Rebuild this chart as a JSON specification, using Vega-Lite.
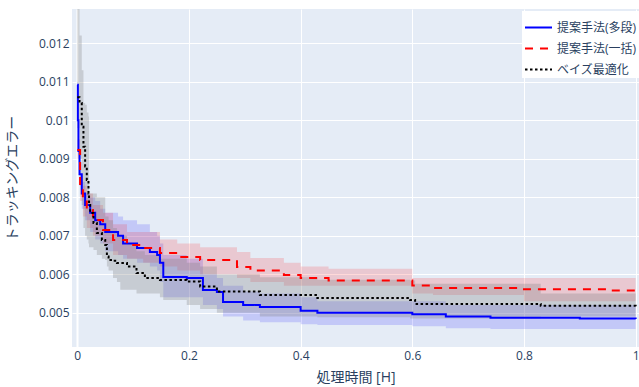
{
  "$schema": "https://vega.github.io/schema/vega-lite/v6.json",
  "width": 567,
  "height": 338,
  "autosize": {"type": "none"},
  "padding": {"left": 72, "top": 9, "right": 0, "bottom": 40},
  "background": "white",
  "datasets": {
    "series": [
      {"s": "提案手法(多段)", "x": 0.0, "m": 0.01092, "lo": 0.0108, "hi": 0.0110},
      {"s": "提案手法(多段)", "x": 0.001, "m": 0.0100, "lo": 0.0097, "hi": 0.0103},
      {"s": "提案手法(多段)", "x": 0.002, "m": 0.0092, "lo": 0.0089, "hi": 0.0095},
      {"s": "提案手法(多段)", "x": 0.004, "m": 0.0086, "lo": 0.0083, "hi": 0.0089},
      {"s": "提案手法(多段)", "x": 0.008, "m": 0.0081, "lo": 0.0077, "hi": 0.0084},
      {"s": "提案手法(多段)", "x": 0.014, "m": 0.0078, "lo": 0.0074, "hi": 0.0081},
      {"s": "提案手法(多段)", "x": 0.023, "m": 0.0076, "lo": 0.0071, "hi": 0.0080},
      {"s": "提案手法(多段)", "x": 0.032, "m": 0.0074, "lo": 0.0069, "hi": 0.0079},
      {"s": "提案手法(多段)", "x": 0.041, "m": 0.0073, "lo": 0.0068, "hi": 0.0077},
      {"s": "提案手法(多段)", "x": 0.050, "m": 0.0071, "lo": 0.0066, "hi": 0.0076},
      {"s": "提案手法(多段)", "x": 0.073, "m": 0.0070, "lo": 0.0065, "hi": 0.0075},
      {"s": "提案手法(多段)", "x": 0.082, "m": 0.0068, "lo": 0.0064, "hi": 0.0074},
      {"s": "提案手法(多段)", "x": 0.107, "m": 0.00668, "lo": 0.0063, "hi": 0.0073},
      {"s": "提案手法(多段)", "x": 0.130, "m": 0.00658, "lo": 0.0062, "hi": 0.0071},
      {"s": "提案手法(多段)", "x": 0.143, "m": 0.0065, "lo": 0.0061, "hi": 0.0070},
      {"s": "提案手法(多段)", "x": 0.148, "m": 0.0063, "lo": 0.0058, "hi": 0.0068},
      {"s": "提案手法(多段)", "x": 0.154, "m": 0.00593, "lo": 0.0054, "hi": 0.0065},
      {"s": "提案手法(多段)", "x": 0.196, "m": 0.0059, "lo": 0.0054, "hi": 0.0064},
      {"s": "提案手法(多段)", "x": 0.225, "m": 0.00559, "lo": 0.0052, "hi": 0.0060},
      {"s": "提案手法(多段)", "x": 0.250, "m": 0.00554, "lo": 0.0051, "hi": 0.0059},
      {"s": "提案手法(多段)", "x": 0.261, "m": 0.00528, "lo": 0.0049, "hi": 0.0057},
      {"s": "提案手法(多段)", "x": 0.297, "m": 0.0052, "lo": 0.0048, "hi": 0.00555},
      {"s": "提案手法(多段)", "x": 0.327, "m": 0.00515, "lo": 0.00475, "hi": 0.0055},
      {"s": "提案手法(多段)", "x": 0.40, "m": 0.00505, "lo": 0.0047, "hi": 0.0054},
      {"s": "提案手法(多段)", "x": 0.43, "m": 0.0050, "lo": 0.00468, "hi": 0.0053},
      {"s": "提案手法(多段)", "x": 0.60, "m": 0.00496, "lo": 0.00465, "hi": 0.0053},
      {"s": "提案手法(多段)", "x": 0.66, "m": 0.0049, "lo": 0.0046, "hi": 0.0052},
      {"s": "提案手法(多段)", "x": 0.74, "m": 0.00487, "lo": 0.00458, "hi": 0.0052},
      {"s": "提案手法(多段)", "x": 0.90, "m": 0.00485, "lo": 0.00458, "hi": 0.0052},
      {"s": "提案手法(多段)", "x": 1.0, "m": 0.00484, "lo": 0.00458, "hi": 0.0052},

      {"s": "提案手法(一括)", "x": 0.0, "m": 0.00923, "lo": 0.0090, "hi": 0.0095},
      {"s": "提案手法(一括)", "x": 0.005, "m": 0.00828, "lo": 0.0079, "hi": 0.0086},
      {"s": "提案手法(一括)", "x": 0.010, "m": 0.00793, "lo": 0.0075, "hi": 0.0083},
      {"s": "提案手法(一括)", "x": 0.017, "m": 0.00767, "lo": 0.0072, "hi": 0.0081},
      {"s": "提案手法(一括)", "x": 0.028, "m": 0.00741, "lo": 0.0070, "hi": 0.0078},
      {"s": "提案手法(一括)", "x": 0.046, "m": 0.00715, "lo": 0.0068, "hi": 0.0076},
      {"s": "提案手法(一括)", "x": 0.064, "m": 0.00689, "lo": 0.0065, "hi": 0.0073},
      {"s": "提案手法(一括)", "x": 0.089, "m": 0.00676, "lo": 0.0064, "hi": 0.0071},
      {"s": "提案手法(一括)", "x": 0.118, "m": 0.00668, "lo": 0.0063, "hi": 0.0071},
      {"s": "提案手法(一括)", "x": 0.148, "m": 0.00655, "lo": 0.0062, "hi": 0.0069},
      {"s": "提案手法(一括)", "x": 0.179, "m": 0.00645, "lo": 0.0061, "hi": 0.0068},
      {"s": "提案手法(一括)", "x": 0.22, "m": 0.00637, "lo": 0.0060, "hi": 0.0067},
      {"s": "提案手法(一括)", "x": 0.286, "m": 0.00619, "lo": 0.0059, "hi": 0.00658},
      {"s": "提案手法(一括)", "x": 0.31, "m": 0.0061, "lo": 0.0058, "hi": 0.00642},
      {"s": "提案手法(一括)", "x": 0.37, "m": 0.00598, "lo": 0.0057, "hi": 0.0063},
      {"s": "提案手法(一括)", "x": 0.40, "m": 0.0059, "lo": 0.0057, "hi": 0.0062},
      {"s": "提案手法(一括)", "x": 0.45, "m": 0.00584, "lo": 0.0057, "hi": 0.00614},
      {"s": "提案手法(一括)", "x": 0.60, "m": 0.00571, "lo": 0.0055, "hi": 0.0059},
      {"s": "提案手法(一括)", "x": 0.637, "m": 0.00564, "lo": 0.00546, "hi": 0.0059},
      {"s": "提案手法(一括)", "x": 0.80, "m": 0.00561, "lo": 0.0053, "hi": 0.0059},
      {"s": "提案手法(一括)", "x": 0.95, "m": 0.00558, "lo": 0.0053, "hi": 0.0059},
      {"s": "提案手法(一括)", "x": 1.0, "m": 0.00558, "lo": 0.0053, "hi": 0.0059},

      {"s": "ベイズ最適化", "x": 0.0, "m": 0.0106, "lo": 0.0098, "hi": 0.0129},
      {"s": "ベイズ最適化", "x": 0.004, "m": 0.01045, "lo": 0.0090, "hi": 0.0122},
      {"s": "ベイズ最適化", "x": 0.008, "m": 0.00983, "lo": 0.0078, "hi": 0.0113},
      {"s": "ベイズ最適化", "x": 0.011, "m": 0.00931, "lo": 0.0072, "hi": 0.01045},
      {"s": "ベイズ最適化", "x": 0.014, "m": 0.0088, "lo": 0.0070, "hi": 0.0104},
      {"s": "ベイズ最適化", "x": 0.017, "m": 0.00845, "lo": 0.0069, "hi": 0.0102},
      {"s": "ベイズ最適化", "x": 0.020, "m": 0.0081, "lo": 0.0068, "hi": 0.0101},
      {"s": "ベイズ最適化", "x": 0.021, "m": 0.0078, "lo": 0.0067, "hi": 0.0081},
      {"s": "ベイズ最適化", "x": 0.023, "m": 0.00759, "lo": 0.0067, "hi": 0.0081},
      {"s": "ベイズ最適化", "x": 0.029, "m": 0.00733, "lo": 0.00663, "hi": 0.0081},
      {"s": "ベイズ最適化", "x": 0.035, "m": 0.00707, "lo": 0.0065, "hi": 0.0080},
      {"s": "ベイズ最適化", "x": 0.044, "m": 0.00689, "lo": 0.0064, "hi": 0.0080},
      {"s": "ベイズ最適化", "x": 0.050, "m": 0.00676, "lo": 0.00637, "hi": 0.0075},
      {"s": "ベイズ最適化", "x": 0.053, "m": 0.00646, "lo": 0.0062, "hi": 0.0075},
      {"s": "ベイズ最適化", "x": 0.056, "m": 0.00637, "lo": 0.0061, "hi": 0.0074},
      {"s": "ベイズ最適化", "x": 0.064, "m": 0.00635, "lo": 0.0059, "hi": 0.0072},
      {"s": "ベイズ最適化", "x": 0.071, "m": 0.00629, "lo": 0.0058, "hi": 0.0070},
      {"s": "ベイズ最適化", "x": 0.077, "m": 0.00629, "lo": 0.0056, "hi": 0.0070},
      {"s": "ベイズ最適化", "x": 0.089, "m": 0.0062, "lo": 0.0056, "hi": 0.0068},
      {"s": "ベイズ最適化", "x": 0.106, "m": 0.00603, "lo": 0.0055, "hi": 0.0066},
      {"s": "ベイズ最適化", "x": 0.121, "m": 0.0059, "lo": 0.0055, "hi": 0.0065},
      {"s": "ベイズ最適化", "x": 0.148, "m": 0.00585, "lo": 0.0054, "hi": 0.0064},
      {"s": "ベイズ最適化", "x": 0.154, "m": 0.00585, "lo": 0.00533, "hi": 0.0064},
      {"s": "ベイズ最適化", "x": 0.196, "m": 0.00581, "lo": 0.0052, "hi": 0.0063},
      {"s": "ベイズ最適化", "x": 0.22, "m": 0.00568, "lo": 0.0051, "hi": 0.0062},
      {"s": "ベイズ最適化", "x": 0.25, "m": 0.00555, "lo": 0.0050, "hi": 0.0060},
      {"s": "ベイズ最適化", "x": 0.327, "m": 0.00546, "lo": 0.0049, "hi": 0.00592},
      {"s": "ベイズ最適化", "x": 0.43, "m": 0.00538, "lo": 0.00488, "hi": 0.00586},
      {"s": "ベイズ最適化", "x": 0.596, "m": 0.00533, "lo": 0.00485, "hi": 0.00584},
      {"s": "ベイズ最適化", "x": 0.605, "m": 0.00523, "lo": 0.00485, "hi": 0.00575},
      {"s": "ベイズ最適化", "x": 0.83, "m": 0.00518, "lo": 0.0049, "hi": 0.0055},
      {"s": "ベイズ最適化", "x": 1.0, "m": 0.00516, "lo": 0.0049, "hi": 0.00542}
    ]
  },
  "data": {"name": "series"},
  "encoding": {
    "x": {
      "field": "x", "type": "quantitative",
      "scale": {"domain": [-0.0095, 1.006], "nice": false, "zero": false},
      "axis": {
        "title": "処理時間 [H]",
        "values": [0, 0.2, 0.4, 0.6, 0.8, 1],
        "format": "~g",
        "labelPadding": 3,
        "labelFlush": false,
        "labelOverlap": false,
        "titleY": 30,
        "titleBaseline": "middle",
        "gridWidth": {"condition": {"test": "datum.value === 0", "value": 2}, "value": 1}
      }
    }
  },
  "layer": [
    {
      "mark": {"type": "area", "interpolate": "step-after", "clip": true},
      "encoding": {
        "y": {
          "field": "lo", "type": "quantitative",
          "scale": {"domain": [0.00411, 0.01289], "nice": false, "zero": false},
          "axis": {
            "title": "トラッキングエラー",
            "values": [0.005, 0.006, 0.007, 0.008, 0.009, 0.01, 0.011, 0.012],
            "format": "~g",
            "labelPadding": 3,
            "titleX": -60,
            "titleY": 169,
            "titleAngle": -90,
            "titleAlign": "center",
            "titleBaseline": "middle"
          }
        },
        "y2": {"field": "hi"},
        "fill": {
          "field": "s", "type": "nominal",
          "scale": {
            "domain": ["ベイズ最適化", "提案手法(一括)", "提案手法(多段)"],
            "range": ["rgba(128,128,128,0.3)", "rgba(255,0,0,0.15)", "rgba(0,0,255,0.15)"]
          },
          "legend": null
        }
      }
    },
    {
      "mark": {"type": "line", "interpolate": "step-after", "clip": true, "strokeWidth": 2},
      "encoding": {
        "y": {"field": "m", "type": "quantitative"},
        "color": {
          "field": "s", "type": "nominal",
          "scale": {
            "domain": ["提案手法(多段)", "提案手法(一括)", "ベイズ最適化"],
            "range": ["#0000ff", "#ff0000", "#000000"]
          },
          "legend": {
            "title": null,
            "orient": "none",
            "legendX": 450,
            "legendY": 2,
            "fillColor": "white",
            "padding": 2,
            "symbolType": "stroke",
            "symbolSize": 729,
            "symbolStrokeWidth": 2,
            "labelFontSize": 12,
            "labelColor": "#2a3f5f",
            "rowPadding": -7
          }
        },
        "strokeDash": {
          "field": "s", "type": "nominal",
          "scale": {
            "domain": ["提案手法(多段)", "提案手法(一括)", "ベイズ最適化"],
            "range": [[1, 0], [8, 7], [2.5, 2.5]]
          },
          "legend": {
            "title": null,
            "orient": "none",
            "legendX": 450,
            "legendY": 2,
            "fillColor": "white",
            "padding": 2,
            "symbolType": "stroke",
            "symbolSize": 729,
            "symbolStrokeWidth": 2,
            "labelFontSize": 12,
            "labelColor": "#2a3f5f",
            "rowPadding": -7
          }
        }
      }
    }
  ],
  "config": {
    "font": "'Open Sans', 'Noto Sans CJK JP', sans-serif",
    "view": {"fill": "#E5ECF6", "stroke": null},
    "axis": {
      "domain": false,
      "ticks": false,
      "gridColor": "white",
      "gridOpacity": 1,
      "labelFont": "'Open Sans', sans-serif",
      "labelFontSize": 12,
      "labelColor": "#2a3f5f",
      "titleFont": "'Open Sans', 'Noto Sans CJK JP', sans-serif",
      "titleFontSize": 14,
      "titleFontWeight": "normal",
      "titleColor": "#2a3f5f"
    },
    "legend": {
      "labelFont": "'Open Sans', 'Noto Sans CJK JP', sans-serif"
    }
  }
}
